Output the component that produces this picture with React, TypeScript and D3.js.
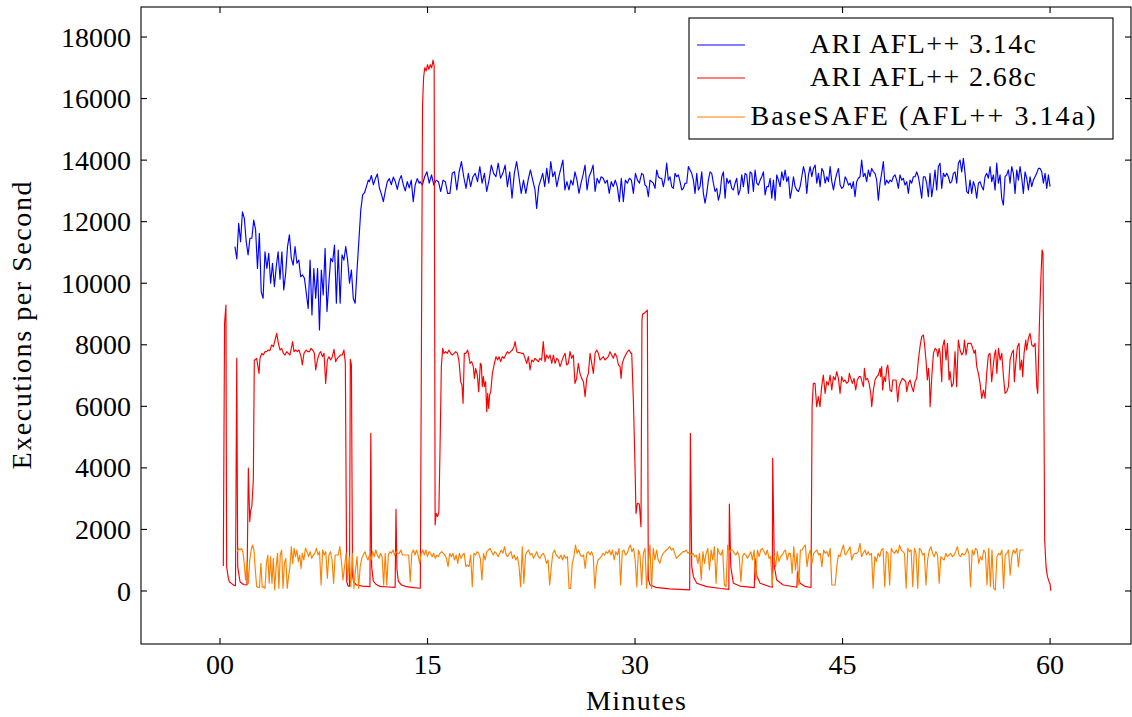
import React from 'react';
import * as d3 from 'd3';

// ---- data (minutes, executions per second) ----

// ARI AFL++ 3.14c, sampled evenly inside each run
const blueA = [11190, 10790, 11950, 11350, 12320, 12110, 11350, 10920, 11460, 11460, 12050, 11730, 10480, 11620, 9720, 9510, 11020, 10480, 10970, 10000, 10650, 9890, 10540, 11020, 10130, 11020, 9780, 10320, 11190, 11570, 10810, 10590, 11190, 10650, 10750, 10210, 10270, 10160, 9670, 9180, 10750, 8970, 10480, 9510, 10480, 8480, 10430, 9620, 11130, 9080, 10000, 10810, 10700, 11240, 9350, 11080, 9350, 10920, 10750, 11190, 10750, 10000, 10430, 9510, 9350, 10430, 11400, 12380, 12870, 12940, 13140, 13350];
const blueB = [13300, 13500, 13200, 13400, 13550, 13100, 12900, 12650, 13000, 13300, 13400, 13200, 13450, 13300, 13050, 13350, 13500, 13200, 13000, 13300, 13100, 13350, 12650, 13200, 13400, 13250];
const blueC1 = [13300, 13190, 13460, 13620, 13250, 13520, 13190, 13350, 13300, 12980, 13350, 13300, 12920, 12920, 13570, 13620, 13030, 13620, 13950, 13460, 13080, 13570, 13140, 13460, 13570, 13300, 13790, 13250, 13570, 12980, 13350, 13840, 13570, 13460, 13900, 13410, 13570, 13840, 13140, 13620, 12760, 13570, 13950, 13460, 12920, 13350, 12920, 13350, 13680, 13350, 13030];
const blueC2 = [12430, 13140, 13350, 13570, 13140, 13730, 13250, 13950, 13460, 13620, 13140, 13460, 13730, 14000, 13030, 13300, 13030, 13350, 13190, 13620, 13350, 12920, 13250, 13520, 13840, 13030, 13460, 13620, 13840, 12980, 13410, 13250, 13460, 13410, 13250, 13350, 12920, 13300, 13140, 13350, 13140, 12650, 13410, 12650, 13350, 13250, 13410, 13350, 12920, 13570, 13350, 13250];
const blueD = [13350, 13570, 13520, 13190, 13140, 12810, 13350, 13300, 13250, 13080, 13680, 13460, 13410, 13410, 13140, 13410, 13900, 13350, 13460, 13140, 13080, 13570, 13460, 13520, 13300, 13030, 13080, 13250, 13250, 13790, 13680, 13570, 13350, 12920, 13570, 13030, 13140, 13620, 12920, 12600, 12920, 13350, 13620, 13570, 13250, 12980, 13080, 12700, 12920, 13460, 13620, 12760, 13410, 13250, 13350, 13080, 13030, 13250, 13410, 12870, 13030, 13520, 13140, 13570, 13520, 12920, 13620, 13570, 12980, 13680, 13250, 13190, 13350, 13460, 13620, 12870, 13140, 13140, 13410, 12760, 13350, 12700, 13520, 13350, 13140, 13620, 13350, 13680, 13300, 13460, 12760, 13030, 13460, 13140, 13030, 12980, 13140, 13460, 13790, 13570, 12920, 13520, 13790, 13460, 13730, 13840, 13250, 13570, 13140, 13730, 13620, 13250, 13460, 13300, 13790, 13300, 13030, 13350, 13570, 13730, 13190, 13080, 13140, 13460, 13350, 13190, 13250];
const blueE = [13080, 13300, 12810, 13300, 13410, 13460, 14000, 13460, 13570, 13300, 13680, 13460, 13730, 13620, 13570, 13350, 12700, 13250, 13570, 13950, 13190, 13350, 13250, 13350, 13300, 13460, 13520, 13350, 13080, 13520, 13350, 13410, 13190, 13300, 12920, 13350, 13250, 13460, 13460, 13620, 13460, 13140, 12760, 13460, 13460, 13250, 12810, 13570, 12810, 13190, 13680, 13030, 13790, 13900, 13080, 13570, 13460, 13570, 13460, 13250, 13300, 13570, 13620, 13250, 13900, 14000, 13620, 14060, 13570, 12980, 12920, 13350, 12920, 13300, 13140, 12760, 13250, 13300, 13140, 13030, 13460, 13570, 13410, 13790, 13300, 13520, 13030, 13900, 13250, 13520, 12760, 12540, 13460, 13520, 13680, 13250, 13790, 13570, 12920, 13680, 13350, 13790, 13410, 12920, 13620, 13410, 13030, 13460, 13140, 13350, 13460, 13570, 13730, 13730, 13620, 13250, 13570, 13080, 13520, 13140];
// [first minute, last minute] of each blue run
const blueSpans: [number, number][] = [[1.08, 10.72], [10.8, 14.4], [14.46, 22.77], [22.89, 30.32], [30.36, 45.55], [45.66, 60.0]];

// ARI AFL++ 2.68c, as [minute, value]
const redA: [number, number][] = [[0.24, 810], [0.33, 8700], [0.43, 9290], [0.48, 790], [0.6, 420], [0.68, 300], [0.96, 200], [1.12, 170], [1.21, 7560], [1.28, 790], [1.45, 300], [1.7, 210], [1.95, 195], [2.05, 3990], [2.15, 2250], [2.22, 2630], [2.3, 2740], [2.41, 3610], [2.48, 7500], [2.53, 7505], [2.65, 7560], [2.82, 7072], [2.89, 7560], [3.01, 7722], [3.13, 7668], [3.25, 7776], [3.37, 7776], [3.49, 7830], [3.61, 7809], [3.73, 7993], [3.86, 7939], [3.98, 8155], [4.1, 8372], [4.22, 8047], [4.34, 7830], [4.46, 7884], [4.58, 7722], [4.7, 7668], [4.82, 7776], [4.94, 7722], [5.06, 7668], [5.25, 8101], [5.35, 7776], [5.47, 7830], [5.59, 7776], [5.71, 7830], [5.86, 7614], [5.95, 7343], [6.07, 7722], [6.22, 7830], [6.34, 7776], [6.46, 7776], [6.58, 7884], [6.7, 7830], [6.82, 7722], [6.92, 7180], [7.04, 7505], [7.18, 7722], [7.28, 7776], [7.4, 7614], [7.52, 7722], [7.64, 6747], [7.76, 7505], [7.88, 7614], [8.0, 7505], [8.12, 7614], [8.24, 7852], [8.36, 7451], [8.48, 7560], [8.6, 7614], [8.72, 7668], [8.84, 7668], [8.96, 7830], [9.06, 7397], [9.16, 300], [9.25, 170], [9.36, 150], [9.42, 7530], [9.5, 7350], [9.58, 500], [9.66, 290], [9.88, 195], [10.3, 160], [10.84, 140], [10.9, 5120], [10.96, 800], [11.08, 320], [11.3, 210], [11.57, 150], [12.2, 130], [12.66, 120], [12.72, 2650], [12.79, 700], [12.89, 320], [13.1, 200], [13.49, 140], [14.0, 110], [14.48, 90], [14.56, 8000], [14.64, 15800], [14.72, 16700], [14.8, 17000], [14.9, 16900], [15.0, 17100], [15.1, 16950], [15.2, 17100], [15.3, 17000], [15.4, 17250], [15.48, 17050], [15.55, 2150], [15.62, 2520], [15.72, 2420], [15.82, 2560], [15.9, 4500], [16.0, 7300], [16.1, 7884]];
const redB: [number, number][] = [[16.19, 7722], [16.31, 7776], [16.43, 7722], [16.55, 7830], [16.67, 7722], [16.79, 7668], [16.92, 7722], [17.04, 7776], [17.16, 7722], [17.28, 7451], [17.4, 6801], [17.49, 6693], [17.57, 6098], [17.66, 7722], [17.78, 7722], [17.9, 7830], [18.0, 7614], [18.07, 7397], [18.19, 7451], [18.31, 7289], [18.39, 6910], [18.48, 7235], [18.6, 7018], [18.7, 6476], [18.82, 7397], [18.89, 7343], [18.96, 6639], [19.04, 6964], [19.11, 6639], [19.2, 6801], [19.28, 5827], [19.35, 6422], [19.42, 5935], [19.49, 6368], [19.57, 6476], [19.69, 7072], [19.81, 7343], [19.95, 7614], [20.07, 7505], [20.17, 7614], [20.29, 7451], [20.41, 7614], [20.53, 7560], [20.65, 7668], [20.77, 7776], [20.89, 7722], [21.01, 7776], [21.13, 7830], [21.25, 7939], [21.33, 8101], [21.45, 7776], [21.57, 7744], [21.69, 7744], [21.81, 7722], [21.93, 7722], [22.05, 7560], [22.17, 7397], [22.29, 7614], [22.41, 7180], [22.53, 7505], [22.65, 7451], [22.77, 7560], [22.89, 7505], [23.01, 7451], [23.13, 7560], [23.25, 7505], [23.37, 8101], [23.49, 7451], [23.61, 7668], [23.73, 7560], [23.86, 7668], [23.98, 7397], [24.1, 7668], [24.22, 7397], [24.34, 7560], [24.46, 7505], [24.58, 7289], [24.7, 7451], [24.82, 7614], [24.94, 7722], [25.06, 7343], [25.18, 7397], [25.3, 7776], [25.42, 7560], [25.54, 7668], [25.66, 6747], [25.78, 6910], [25.9, 7397], [26.02, 7072], [26.14, 6910], [26.27, 6801], [26.39, 6314], [26.51, 6910], [26.63, 7072], [26.75, 7722], [26.87, 7397], [26.99, 7072], [27.11, 7722], [27.23, 7830], [27.35, 7722], [27.47, 7505], [27.59, 7560], [27.71, 7614], [27.83, 7505], [27.95, 7560], [28.07, 7614], [28.19, 7776], [28.31, 7668], [28.43, 7560], [28.55, 7722], [28.68, 7614], [28.8, 7343], [28.92, 7289], [28.99, 6910], [29.08, 7397], [29.2, 7560], [29.32, 7668], [29.45, 7776], [29.57, 7830], [29.71, 7722]];
const redC: [number, number][] = [[29.76, 7722], [29.88, 6206], [30.0, 4040], [30.07, 2524], [30.17, 2848], [30.31, 2827], [30.43, 2090], [30.5, 8800], [30.55, 9000], [30.65, 9020], [30.8, 9080], [30.89, 9130], [30.96, 400], [31.08, 200], [31.5, 120], [32.5, 70], [33.95, 35], [34.0, 5123], [34.1, 790], [34.22, 466], [34.46, 250], [35.18, 141], [36.2, 80], [36.78, 55], [36.82, 2827], [36.92, 790], [37.11, 250], [37.59, 160], [38.62, 110], [38.68, 1050], [38.8, 500], [39.04, 250], [39.76, 140], [39.92, 120], [39.95, 4310], [40.07, 790], [40.24, 357], [40.72, 195], [41.7, 120], [41.74, 628], [41.93, 250], [42.3, 150], [42.72, 115], [42.8, 6000], [42.89, 6747], [43.01, 6747], [43.13, 5989], [43.25, 6314], [43.37, 5989], [43.49, 6639], [43.61, 7018], [43.74, 6422], [43.86, 6801], [43.98, 6693], [44.1, 7018], [44.22, 6530], [44.34, 6964], [44.46, 6855], [44.58, 7126], [44.7, 6910]];
const redD: [number, number][] = [[44.82, 6422], [44.94, 6964], [45.06, 6801], [45.18, 6855], [45.3, 6747], [45.42, 6801], [45.49, 7072], [45.59, 6910], [45.71, 6747], [45.83, 6910], [45.95, 6531], [46.07, 6855], [46.19, 6964], [46.31, 6964], [46.43, 6747], [46.51, 6639], [46.58, 7235], [46.68, 6855], [46.8, 6910], [46.92, 6747], [47.04, 6422], [47.11, 5989], [47.23, 6531], [47.35, 6855], [47.47, 6964], [47.59, 7018], [47.71, 7235], [47.76, 6964], [47.83, 7289], [47.9, 6531], [48.0, 6964], [48.1, 6801], [48.19, 7235], [48.27, 7343], [48.36, 6910], [48.43, 6531], [48.55, 6476], [48.63, 6855], [48.75, 6855], [48.87, 6855], [48.99, 6151], [49.09, 6639], [49.21, 6801], [49.33, 6910], [49.45, 6855], [49.57, 6801], [49.64, 6476], [49.76, 6747], [49.88, 6855], [50.0, 6639], [50.12, 6476], [50.24, 6801], [50.36, 6910], [50.48, 7505], [50.6, 7939], [50.72, 8264], [50.84, 8318], [50.92, 8047], [51.04, 7451], [51.13, 6855], [51.21, 7235], [51.28, 6855], [51.33, 5989], [51.45, 6964], [51.57, 7722], [51.69, 7884], [51.81, 7830], [51.88, 7614], [51.98, 7884], [52.05, 7722], [52.17, 6801], [52.24, 7939], [52.36, 8155], [52.48, 7505], [52.58, 8047], [52.7, 6855], [52.77, 7126], [52.89, 6639], [53.01, 6747], [53.13, 7776], [53.25, 6639], [53.37, 8155], [53.49, 7830], [53.62, 7668], [53.74, 7776], [53.81, 8155], [53.93, 7668], [54.05, 8047], [54.17, 8047], [54.29, 8047], [54.41, 7884], [54.51, 7722], [54.6, 7830], [54.7, 7289], [54.82, 7072], [54.94, 6747], [55.06, 6260], [55.18, 6531], [55.3, 6260], [55.42, 7072], [55.54, 7668], [55.66, 7722], [55.78, 6801], [55.9, 7343], [55.98, 7668], [56.07, 7830], [56.15, 7072], [56.27, 7884], [56.39, 7505], [56.51, 7722], [56.63, 6964], [56.75, 6422], [56.87, 6476], [56.99, 6639], [57.11, 7505], [57.23, 7722], [57.35, 7830], [57.42, 6801], [57.52, 7397], [57.64, 7939], [57.76, 8047], [57.83, 7180], [57.95, 7505], [58.02, 6964], [58.12, 7722], [58.24, 8155], [58.31, 7830], [58.43, 8210], [58.55, 8372], [58.68, 7993], [58.8, 7939], [58.92, 8047], [59.04, 6639], [59.11, 6422], [59.23, 8698], [59.33, 10100], [59.42, 11080], [59.49, 10970], [59.57, 4906], [59.61, 1657], [59.71, 790], [59.81, 466], [59.93, 303], [60.0, 228], [60.05, 10]];

// BaseSAFE (AFL++ 3.14a), sampled evenly inside each run
const orangeA1 = [1278, 1386, 1332, 1386, 1278, 899, 357, 953, 249, 1007, 1332, 1495, 1332, 682, 141, 120, 120, 899, 120, 141, 87, 899, 1170, 249, 1115, 249, 1061, 32, 790, 1224, 87, 1170, 1332, 87, 899, 1061, 87, 466, 790, 1440, 899, 1386, 1115, 1332, 953, 1170, 736];
const orangeA2 = [1224, 1007, 1386, 1278, 1115, 1278, 1061, 1170, 1224, 1386, 1170, 1278, 195, 1332, 1170, 1278, 412, 1170, 1278, 1007, 249, 1170, 1170, 1170, 1440, 953, 357, 790, 1224, 357, 1115, 141, 1224, 87, 682, 1115, 87, 790, 1061, 1170, 1278, 1115, 1007, 1170, 1007, 1278, 1115, 1332, 1170, 1061, 1224, 1115, 195, 1224, 195, 1170, 1278, 1224, 1332, 1170, 1278, 1224, 1224, 1332, 1170, 1170, 1170, 1170, 1170, 303, 1224, 1332, 1170, 1332, 1170, 899, 1224, 1332, 1170, 1332, 1115, 1278, 1224, 1115, 1224, 1061, 1170, 1115, 1224];
const orangeB = [1278, 1224, 1170, 1061, 790, 1224, 1115, 1224, 1007, 1170, 899, 1224, 1061, 1170, 1224, 790, 845, 790, 1170, 141, 1224, 1170, 1278, 1224, 1061, 357, 1224, 1007, 1278, 1332, 1386, 1278, 1170, 1278, 1224, 1115, 1224, 1332, 1224, 1440, 1170, 1115, 1224, 1278, 1061, 1170, 1007, 1115, 790, 141, 1440, 249, 1170, 1278, 1332, 1170, 1224, 1061, 1170, 1278, 1115, 1061, 1170, 1224, 1115, 899, 1007, 195, 790, 1224, 1332, 1170, 1115, 1061, 1170, 1007, 1170, 1061, 1115, 87, 87, 899, 1115, 1495, 1224, 1332, 1170, 1115, 1170, 736, 1224, 1278, 1170, 1278, 1115, 87, 790, 1007, 1061, 1115, 1224, 1170, 1278, 1224, 1332, 1170, 1332, 1007, 1278, 1170, 1386, 195, 1278, 1332, 1170, 1224, 1386, 1495, 1278, 1386, 1007, 141, 1332, 1170];
const orangeC = [195, 1224, 1386, 87, 899, 1495, 87, 1386, 1007, 1332, 1007, 899, 1115, 1224, 1278, 1332, 1386, 1440, 1332, 1386, 1224, 1061, 1115, 1170, 1224, 1278, 1278, 1332, 1224, 1278, 1170, 1224, 1115, 1170, 899, 1224, 357, 1278, 899, 1224, 1386, 682, 1332, 1007, 1440, 249, 1386, 1224, 1170, 1332, 195, 141, 1495, 1224, 1332, 1332, 1224, 1170, 1278, 1115, 303, 1115, 1224, 1170, 1061, 1170, 1278, 1007, 1332, 357, 1332, 1115, 1332, 1386, 1278, 1170, 1332, 1061, 1115, 195, 1170, 790, 1278, 953, 1115, 1170, 1278, 1332, 1007, 1224, 1224, 574, 1440, 682, 1224, 195, 1332, 1332, 1440, 1495, 790, 1170, 1332, 899, 1224, 1278, 1332, 1170, 1224, 790, 1332, 1224, 1278, 1115, 1386, 195, 195, 195, 790, 1170, 1115, 1332, 1495, 1170, 1224, 1332, 1440];
const orangeD = [1007, 1170, 1224, 1224, 1278, 1549, 1115, 1224, 1332, 1170, 1278, 1170, 1224, 87, 1115, 953, 1224, 1115, 1332, 1386, 141, 1278, 1224, 195, 1386, 1278, 1224, 1332, 1224, 1495, 1332, 1278, 1224, 87, 1386, 1278, 1332, 141, 1386, 1224, 87, 1386, 1332, 1170, 1224, 195, 1007, 1332, 1440, 1224, 1115, 1278, 1170, 249, 1115, 1061, 1007, 1224, 1115, 1170, 1224, 1115, 1170, 1278, 1440, 1170, 1115, 1224, 1170, 1224, 1386, 1224, 141, 1332, 1170, 1386, 1332, 899, 1115, 1007, 1332, 1224, 195, 1386, 141, 1332, 87, 32, 1115, 1224, 1170, 1332, 87, 1170, 1224, 1332, 520, 1115, 1332, 1224, 1386, 790, 1332, 1332, 1332];
const orangeSpans: [number, number][] = [[1.25, 5.86], [5.95, 15.9], [16.02, 30.36], [30.48, 45.54], [45.66, 58.07]];

const xTicks = [0, 15, 30, 45, 60];
const xTickLabels = ['00', '15', '30', '45', '60'];
const yTicks = [0, 2000, 4000, 6000, 8000, 10000, 12000, 14000, 16000, 18000];
const legendLabels = ['ARI AFL++ 3.14c', 'ARI AFL++ 2.68c', 'BaseSAFE (AFL++ 3.14a)'];

// spread a run of samples evenly between two minutes
const spread = (span: [number, number], vals: number[]): [number, number][] => {
  const step = (span[1] - span[0]) / (vals.length - 1);
  return vals.map((v, i) => [span[0] + i * step, v] as [number, number]);
};

const blue = [blueA, blueB, blueC1, blueC2, blueD, blueE].flatMap((v, i) => spread(blueSpans[i], v));
const red = [...redA, ...redB, ...redC, ...redD];
const orange = [orangeA1, orangeA2, orangeB, orangeC, orangeD].flatMap((v, i) => spread(orangeSpans[i], v));

const series = [
  { name: legendLabels[0], color: '#0000ff', data: blue, width: 226 },
  { name: legendLabels[1], color: '#ff0000', data: red, width: 226 },
  { name: legendLabels[2], color: '#ff8000', data: orange, width: 345 },
];

const W = 1132;
const H = 717;
const plot = { left: 141, top: 7, right: 1131, bottom: 644 };
const font = "'Liberation Serif', 'Times New Roman', serif";
const fs = 28;
const tickLen = 6;

export default function App() {
  const x = d3.scaleLinear().domain([-5.71, 65.85]).range([plot.left, plot.right]);
  const y = d3.scaleLinear().domain([-1722, 18975]).range([plot.bottom, plot.top]);
  const line = d3.line<[number, number]>().x(d => x(d[0])).y(d => y(d[1]));

  const legendRows = [53, 86, 125];

  return (
    <svg width={W} height={H} style={{ position: 'absolute', left: 0, top: 0, background: '#fff' }}
      fontFamily={font} fontSize={fs}>
      <defs>
        <clipPath id="plotClip">
          <rect x={plot.left} y={plot.top} width={plot.right - plot.left} height={plot.bottom - plot.top} />
        </clipPath>
      </defs>
      <rect x={0} y={0} width={W} height={H} fill="#fff" />

      <g clipPath="url(#plotClip)">
        {series.map(s => (
          <path key={s.name} d={line(s.data) ?? ''} fill="none" stroke={s.color}
            strokeWidth={1.15} strokeLinejoin="round" />
        ))}
      </g>

      {/* ticks */}
      {xTicks.map((t, i) => (
        <g key={'x' + t}>
          <line x1={x(t)} x2={x(t)} y1={plot.bottom} y2={plot.bottom - tickLen} stroke="#000" strokeWidth={1.1} />
          <line x1={x(t)} x2={x(t)} y1={plot.top} y2={plot.top + tickLen} stroke="#000" strokeWidth={1.1} />
          <text x={x(t)} y={plot.bottom + 30} textAnchor="middle">{xTickLabels[i]}</text>
        </g>
      ))}
      {yTicks.map(t => (
        <g key={'y' + t}>
          <line x1={plot.left} x2={plot.left + tickLen} y1={y(t)} y2={y(t)} stroke="#000" strokeWidth={1.1} />
          <line x1={plot.right} x2={plot.right - tickLen} y1={y(t)} y2={y(t)} stroke="#000" strokeWidth={1.1} />
          <text x={131} y={y(t) + 9.5} textAnchor="end">{t}</text>
        </g>
      ))}

      <rect x={plot.left} y={plot.top} width={plot.right - plot.left} height={plot.bottom - plot.top}
        fill="none" stroke="#000" strokeWidth={1.1} />

      <text x={(plot.left + plot.right) / 2} y={710} textAnchor="middle"
        textLength={100} lengthAdjust="spacing">Minutes</text>
      <text transform={`translate(31,${(plot.top + plot.bottom) / 2}) rotate(-90)`} textAnchor="middle"
        textLength={288} lengthAdjust="spacing">
        Executions per Second
      </text>

      {/* legend */}
      <g>
        <rect x={689} y={18} width={424} height={121} fill="#fff" stroke="#000" strokeWidth={1.1} />
        {series.map((s, i) => (
          <g key={'lg' + i}>
            <line x1={697} x2={745} y1={legendRows[i] - 8} y2={legendRows[i] - 8} stroke={s.color} strokeWidth={1.15} />
            <text x={923} y={legendRows[i]} textAnchor="middle" textLength={s.width} lengthAdjust="spacing">{s.name}</text>
          </g>
        ))}
      </g>
    </svg>
  );
}
